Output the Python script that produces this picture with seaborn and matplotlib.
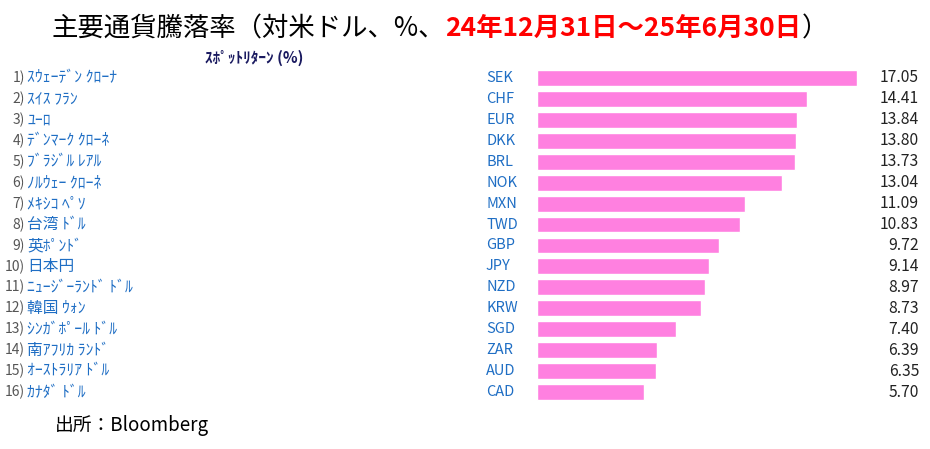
import pandas as pd
import matplotlib.pyplot as plt
import matplotlib.transforms as mtransforms
import seaborn as sns

# data
names = ["ｽｳｪｰﾃﾞﾝ ｸﾛｰﾅ", "ｽｲｽ ﾌﾗﾝ", "ﾕｰﾛ", "ﾃﾞﾝﾏｰｸ ｸﾛｰﾈ", "ﾌﾞﾗｼﾞﾙ ﾚｱﾙ", "ﾉﾙｳｪｰ ｸﾛｰﾈ",
         "ﾒｷｼｺ ﾍﾟｿ", "台湾 ﾄﾞﾙ", "英ﾎﾟﾝﾄﾞ", "日本円", "ﾆｭｰｼﾞｰﾗﾝﾄﾞ ﾄﾞﾙ", "韓国 ｳｫﾝ",
         "ｼﾝｶﾞﾎﾟｰﾙ ﾄﾞﾙ", "南ｱﾌﾘｶ ﾗﾝﾄﾞ", "ｵｰｽﾄﾗﾘｱ ﾄﾞﾙ", "ｶﾅﾀﾞ ﾄﾞﾙ"]
codes = ["SEK", "CHF", "EUR", "DKK", "BRL", "NOK", "MXN", "TWD",
         "GBP", "JPY", "NZD", "KRW", "SGD", "ZAR", "AUD", "CAD"]
returns = [17.05, 14.41, 13.84, 13.80, 13.73, 13.04, 11.09, 10.83,
           9.72, 9.14, 8.97, 8.73, 7.40, 6.39, 6.35, 5.70]

df = pd.DataFrame({"code": codes, "ret": returns, "name": names})

sns.set_theme(style="white")
plt.rcParams["font.family"] = ["Noto Sans CJK JP", "DejaVu Sans"]

W, H = 930, 449
fig = plt.figure(figsize=(9.3, 4.49), dpi=100)
fig.patch.set_facecolor("white")

# bar area
ax = fig.add_axes([537 / W, 1 - 402.5 / H, (857 - 537) / W, 335 / H])
sns.barplot(data=df, y="code", x="ret", order=codes, color="#ff80e0",
            saturation=1, width=0.76, ax=ax)
ax.set_xlim(0, max(returns))
ax.set_ylim(len(codes) - 0.5, -0.5)
ax.axis("off")

blue = "#1f6ec4"
trans = mtransforms.blended_transform_factory(fig.transFigure, ax.transData)
for i, (nm, cd, v) in enumerate(zip(names, codes, returns)):
    fig.text(25 / W, i, f"{i + 1})", transform=trans, ha="right", va="center",
             fontsize=10, color="#555555")
    fig.text(27 / W, i, nm, transform=trans, ha="left", va="center",
             fontsize=11.3, color=blue)
    fig.text(486 / W, i, cd, transform=trans, ha="left", va="center",
             fontsize=10.5, color=blue)
    fig.text(919 / W, i, f"{v:.2f}", transform=trans, ha="right", va="center",
             fontsize=11.3, color="#222222")

# title in three pieces
ty = 1 - 36 / H
t1 = fig.text(52 / W, ty, "主要通貨騰落率（対米ドル、%、", fontsize=19,
              color="black", va="baseline")
t2 = fig.text(0, 0, "24年12月31日～25年6月30日", fontsize=19, color="#ff0000",
              fontweight="bold", va="baseline")
t3 = fig.text(0, 0, "）", fontsize=19, color="black", va="baseline")
fig.canvas.draw()
r = fig.canvas.get_renderer()
bb = t1.get_window_extent(r)
t2.set_position((bb.x1 / fig.bbox.width, ty))
fig.canvas.draw()
bb2 = t2.get_window_extent(r)
t3.set_position((bb2.x1 / fig.bbox.width, ty))

fig.text(254 / W, 1 - 58 / H, "ｽﾎﾟｯﾄﾘﾀｰﾝ (%)", ha="center", va="center",
         fontsize=11, color="#1a1a60", fontweight="bold")
fig.text(55 / W, 1 - 425 / H, "出所：Bloomberg", ha="left", va="center",
         fontsize=13.5, color="black")

fig.savefig("out.png", dpi=100, facecolor="white")
